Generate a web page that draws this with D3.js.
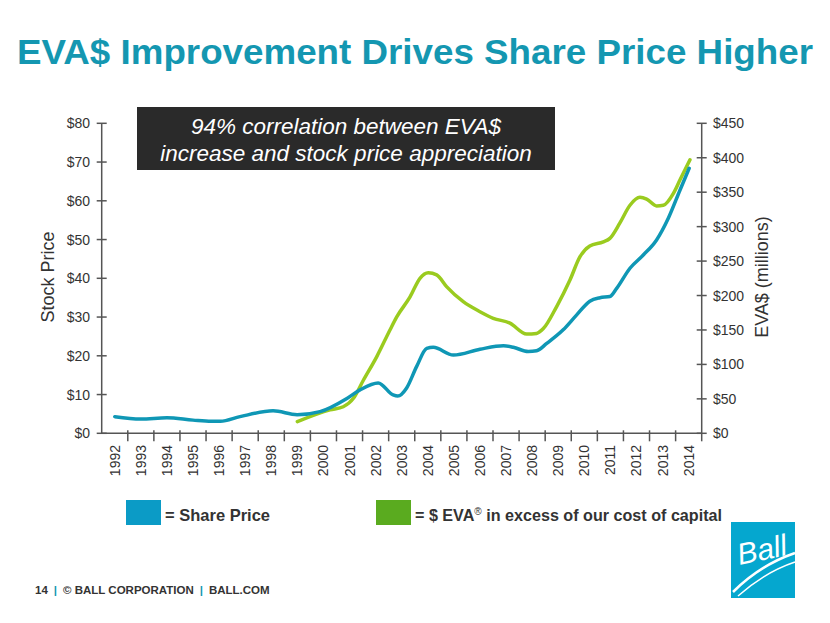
<!DOCTYPE html>
<html><head><meta charset="utf-8">
<script src="https://cdn.jsdelivr.net/npm/d3@7"></script>
<style>body{margin:0;background:#fff}svg{display:block}text{font-family:"Liberation Sans",Arial,sans-serif}</style>
</head><body><svg id="c" width="830" height="623"></svg>
<script>
const years = d3.range(1992, 2015);
const priceTicks = [0,10,20,30,40,50,60,70,80];
const evaTicks = [0,50,100,150,200,250,300,350,400,450];

const priceYears  = [1992.0,1993.0,1994.0,1995.0,1995.7,1996.05,1996.8,1998.07,1998.99,1999.87,2000.9,2001.4,2002.1,2002.67,2002.85,2003.19,2003.57,2003.96,2004.21,2004.98,2006.0,2006.9,2007.28,2007.85,2008.17,2008.56,2009.19,2009.7,2010.21,2010.6,2010.98,2011.24,2011.75,2012.26,2012.77,2013.22,2013.67,2014.02];
const priceValues = [4.3,3.7,4.0,3.4,3.1,3.1,4.3,5.8,4.8,5.6,9.0,11.2,13.0,9.9,9.6,11.7,17.2,21.9,22.2,20.2,21.7,22.6,22.2,21.1,21.3,23.2,26.7,30.5,34.1,35.0,35.3,37.4,42.6,46.0,49.9,55.5,62.8,68.4];

const evaYears  = [1999.0,2000.25,2000.76,2001.15,2001.53,2002.04,2002.55,2002.81,2003.32,2003.7,2004.02,2004.34,2004.72,2005.36,2006.0,2006.51,2007.15,2007.79,2008.17,2008.43,2008.94,2009.45,2009.83,2010.21,2010.73,2010.98,2011.36,2011.75,2012.13,2012.39,2012.77,2013.03,2013.41,2013.67,2014.05];
const evaValues = [17,34,38.6,50.8,77,111,150,169,198,225,233,230,213,191,176.5,167,160,144,145,152,184,222.5,256,272,278,283,305,331,342.5,340,330,331,348,368,397];

const svg = d3.select("#c");
const L = 101.7, R = 701.7, T = 123.3, B = 433.3;
const x = d3.scaleLinear().domain([1991.5, 2014.5]).range([L, R]);
const band = d3.scaleBand().domain(years).range([L, R]);
const yP = d3.scaleLinear().domain([0, 80]).range([B, T]);
const yE = d3.scaleLinear().domain([0, 450]).range([B, T]);
const axisCol = "#555";

// Title
svg.append("text").attr("x", 17).attr("y", 64).attr("font-size", 35.5).attr("font-weight", "bold")
  .attr("fill", "#1497b1").attr("textLength", 796).attr("lengthAdjust", "spacingAndGlyphs")
  .text("EVA$ Improvement Drives Share Price Higher");

// Left axis
const gl = svg.append("g");
gl.append("line").attr("x1", L).attr("x2", L).attr("y1", T).attr("y2", B).attr("stroke", axisCol).attr("stroke-width", 1.5);
priceTicks.forEach(t => {
  gl.append("line").attr("x1", L - 5).attr("x2", L + 5).attr("y1", yP(t)).attr("y2", yP(t)).attr("stroke", axisCol).attr("stroke-width", 1.5);
  gl.append("text").attr("x", 90).attr("y", yP(t) + 5).attr("text-anchor", "end").attr("font-size", 14).attr("fill", "#333").text("$" + t);
});
// Right axis
const gr = svg.append("g");
gr.append("line").attr("x1", R).attr("x2", R).attr("y1", T).attr("y2", B).attr("stroke", axisCol).attr("stroke-width", 1.5);
evaTicks.forEach(t => {
  gr.append("line").attr("x1", R - 5).attr("x2", R + 5).attr("y1", yE(t)).attr("y2", yE(t)).attr("stroke", axisCol).attr("stroke-width", 1.5);
  gr.append("text").attr("x", 713).attr("y", yE(t) + 5).attr("text-anchor", "start").attr("font-size", 14).attr("fill", "#333").text("$" + t);
});
// X axis
const gx = svg.append("g");
gx.append("line").attr("x1", L).attr("x2", R).attr("y1", B).attr("y2", B).attr("stroke", axisCol).attr("stroke-width", 1.5);
years.forEach((yr, i) => {
  const xx = band(yr);
  if (i > 0) gx.append("line").attr("x1", xx).attr("x2", xx).attr("y1", B - 3).attr("y2", B + 8).attr("stroke", axisCol).attr("stroke-width", 1.5);
  const cx = xx + band.bandwidth() / 2 + 5;
  gx.append("text").attr("transform", `translate(${cx},445) rotate(-90)`).attr("text-anchor", "end")
    .attr("font-size", 14).attr("fill", "#333").text(yr);
});
gx.append("line").attr("x1", R).attr("x2", R).attr("y1", B).attr("y2", B + 8).attr("stroke", axisCol).attr("stroke-width", 1.5);

// Axis titles
svg.append("text").attr("transform", "translate(54,277) rotate(-90)").attr("text-anchor", "middle")
  .attr("font-size", 18).attr("fill", "#333").text("Stock Price");
svg.append("text").attr("transform", "translate(768,277) rotate(-90)").attr("text-anchor", "middle")
  .attr("font-size", 18).attr("fill", "#333").text("EVA$ (millions)");

// Lines
const lineP = d3.line().x((d, i) => x(priceYears[i])).y(d => yP(d)).curve(d3.curveMonotoneX);
const lineE = d3.line().x((d, i) => x(evaYears[i])).y(d => yE(d)).curve(d3.curveMonotoneX);
svg.append("path").datum(evaValues).attr("d", lineE).attr("fill", "none").attr("stroke", "#9acb1f").attr("stroke-width", 3.5).attr("stroke-linecap", "round");
svg.append("path").datum(priceValues).attr("d", lineP).attr("fill", "none").attr("stroke", "#0f97b5").attr("stroke-width", 3.5).attr("stroke-linecap", "round");

// Annotation box
svg.append("rect").attr("x", 137).attr("y", 107).attr("width", 418).attr("height", 63).attr("fill", "#2a2a2a");
svg.append("text").attr("x", 346).attr("y", 134).attr("text-anchor", "middle").attr("font-size", 22.5).attr("font-style", "italic").attr("fill", "#fff").text("94% correlation between EVA$");
svg.append("text").attr("x", 346).attr("y", 161).attr("text-anchor", "middle").attr("font-size", 22.5).attr("font-style", "italic").attr("fill", "#fff").text("increase and stock price appreciation");

// Legend
svg.append("rect").attr("x", 126).attr("y", 500).attr("width", 35).attr("height", 25).attr("fill", "#0b9bc6");
svg.append("text").attr("x", 165).attr("y", 521).attr("font-size", 16.5).attr("font-weight", "bold").attr("fill", "#333").text("= Share Price");
svg.append("rect").attr("x", 376).attr("y", 500).attr("width", 35).attr("height", 25).attr("fill", "#5aab1f");
const lt = svg.append("text").attr("x", 415).attr("y", 521).attr("font-size", 16).attr("font-weight", "bold").attr("fill", "#333")
  .attr("textLength", 307).attr("lengthAdjust", "spacingAndGlyphs");
lt.append("tspan").text("= $ EVA");
lt.append("tspan").attr("font-size", 10).attr("dy", -6).attr("font-weight", "normal").text("®");
lt.append("tspan").attr("dy", 6).text(" in excess of our cost of capital");

// Footer
const ft = svg.append("text").attr("x", 35).attr("y", 594).attr("font-size", 11.5).attr("font-weight", "bold").attr("fill", "#333");
ft.append("tspan").text("14");
ft.append("tspan").attr("dx", 6).attr("fill", "#1497b1").text("|");
ft.append("tspan").attr("dx", 6).text("© BALL CORPORATION");
ft.append("tspan").attr("dx", 6).attr("fill", "#1497b1").text("|");
ft.append("tspan").attr("dx", 6).text("BALL.COM");

// Logo
const lg = svg.append("g");
lg.append("rect").attr("x", 731).attr("y", 522).attr("width", 64).attr("height", 76).attr("fill", "#05a7cf");
lg.append("text").attr("x", 763).attr("y", 560).attr("text-anchor", "middle").attr("font-size", 30).attr("font-style", "italic")
  .attr("font-family", "DejaVu Serif, serif").attr("fill", "#fff").attr("transform", "rotate(-12,763,555)").text("Ball");
lg.append("path").attr("d", "M733,592 Q760,565 795,553").attr("fill", "none").attr("stroke", "#fff").attr("stroke-width", 2.5);
lg.append("path").attr("d", "M738,596 Q765,572 795,562").attr("fill", "none").attr("stroke", "#fff").attr("stroke-width", 1.5);
</script></body></html>
